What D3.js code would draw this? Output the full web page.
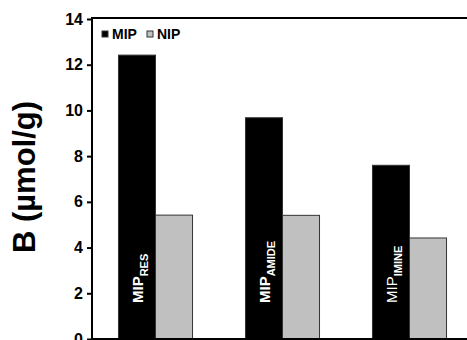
<!DOCTYPE html>
<html><head><meta charset="utf-8">
<script src="https://cdn.jsdelivr.net/npm/d3@7"></script>
<style>body{margin:0;background:#fff}svg{display:block;font-family:Arial,"Liberation Sans",sans-serif}</style>
</head><body>
<svg id="c" width="467" height="340"></svg>
<script>
const categories = ["RES", "AMIDE", "IMINE"];
const series = ["MIP", "NIP"];
const mipValues = [12.42, 9.68, 7.6];
const nipValues = [5.42, 5.41, 4.42];
const yTicks = [0, 2, 4, 6, 8, 10, 12, 14];
const yTitle = "B (µmol/g)";
const colors = {MIP: "#000000", NIP: "#c0c0c0"};

const svg = d3.select("#c");
const mLeft = 92, mTop = 18, mBottom = 339, plotW = 381;

const x0 = d3.scaleBand().domain(categories).range([mLeft, mLeft + plotW]).paddingInner(0.417).paddingOuter(0.2085);
const x1 = d3.scaleBand().domain(series).range([0, x0.bandwidth()]);
const y = d3.scaleLinear().domain([0, 14]).range([mBottom, mTop + 1]);

const data = categories.map((c, i) => ({cat: c, MIP: mipValues[i], NIP: nipValues[i]}));

// bars
const g = svg.append("g");
data.forEach(d => {
  series.forEach(s => {
    g.append("rect")
      .attr("x", x0(d.cat) + x1(s))
      .attr("y", y(d[s]))
      .attr("width", x1.bandwidth())
      .attr("height", y(0) - y(d[s]))
      .attr("fill", colors[s])
      .attr("stroke", "#333")
      .attr("stroke-width", 1);
  });
});

// bar labels
data.forEach((d, i) => {
  const cx = x0(d.cat) + x1("MIP") + x1.bandwidth() / 2;
  const t = svg.append("text")
    .attr("transform", `translate(${cx + 6},${mBottom - 36}) rotate(-90)`)
    .attr("fill", "#fff")
    .attr("font-size", 15);
  t.append("tspan").text("MIP").attr("font-weight", d.cat === "IMINE" ? "normal" : "bold");
  t.append("tspan").text(d.cat).attr("font-size", 11).attr("font-weight", "bold").attr("dy", 5);
});

// axis
const yAxis = d3.axisLeft(y).tickValues(yTicks).tickSize(5).tickPadding(4).tickFormat(d3.format("d"));
const ax = svg.append("g").attr("transform", `translate(${mLeft},0)`).call(yAxis);
ax.select(".domain").remove();
ax.selectAll(".tick line").attr("stroke", "#000").attr("stroke-width", 2);
ax.selectAll(".tick text").attr("font-size", 16).attr("font-weight", "bold").attr("fill", "#000")
  .attr("font-family", "Arial, 'Liberation Sans', sans-serif");

// frame
svg.append("rect").attr("x", mLeft).attr("y", mTop).attr("width", plotW).attr("height", mBottom - mTop)
  .attr("fill", "none").attr("stroke", "#000").attr("stroke-width", 2);

// legend
const lg = svg.append("g");
const legX = [102, 147];
series.forEach((s, i) => {
  lg.append("rect").attr("x", legX[i]).attr("y", 31).attr("width", 6).attr("height", 6)
    .attr("fill", colors[s]).attr("stroke", "#333").attr("stroke-width", 1);
  lg.append("text").attr("x", legX[i] + 10).attr("y", 39).attr("font-size", 14).attr("font-weight", "bold")
    .text(s);
});

// y title
svg.append("text").attr("transform", `translate(35,177) rotate(-90)`).attr("text-anchor", "middle")
  .attr("font-size", 31).attr("font-weight", "bold").text(yTitle);
</script>
</body></html>
